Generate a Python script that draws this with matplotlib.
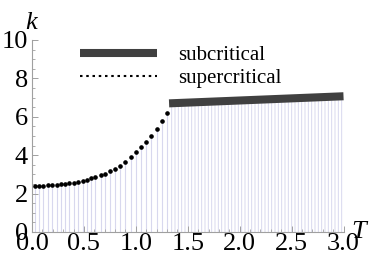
import matplotlib
matplotlib.use("Agg")
import matplotlib.pyplot as plt
from matplotlib.lines import Line2D
from matplotlib.ticker import MultipleLocator

# Data
T_super = [0.03, 0.07, 0.11, 0.15, 0.19, 0.24, 0.28, 0.32, 0.36, 0.40, 0.44, 0.49,
           0.53, 0.57, 0.61, 0.66, 0.70, 0.75, 0.80, 0.85, 0.90, 0.95, 1.00, 1.05,
           1.10, 1.15, 1.20, 1.25, 1.30]
k_super = [2.42, 2.42, 2.42, 2.43, 2.44, 2.46, 2.48, 2.50, 2.53, 2.56, 2.61, 2.66,
           2.72, 2.79, 2.86, 2.95, 3.04, 3.16, 3.30, 3.45, 3.66, 3.91, 4.15, 4.42,
           4.70, 5.02, 5.37, 5.76, 6.20]
T_sub = [1.32, 3.0]
k_sub = [6.70, 7.07]

x_ticks = [0.0, 0.5, 1.0, 1.5, 2.0, 2.5, 3.0]
x_ticklabels = ["0.0", "0.5", "1.0", "1.5", "2.0", "2.5", "3.0"]
y_ticks = [0, 2, 4, 6, 8, 10]
y_ticklabels = ["0", "2", "4", "6", "8", "10"]

plt.rcParams['font.family'] = 'serif'
plt.rcParams['font.serif'] = ['Liberation Serif', 'Times New Roman', 'DejaVu Serif']
plt.rcParams['hatch.linewidth'] = 0.7
lav = '#d8d8ee'
plt.rcParams['hatch.color'] = lav

fig = plt.figure(figsize=(3.74, 2.69), dpi=100)
ax = fig.add_axes([32 / 374, 37 / 269, (343.5 - 32) / 374, (232 - 40) / 269])

# filling lines
ax.vlines(T_super, 0, k_super, colors=lav, linewidth=0.8, zorder=1)
ax.fill_between(T_sub, 0, k_sub, facecolor='none', edgecolor=lav, hatch='|||||',
                linewidth=0, zorder=1)

# series
ax.plot(T_super, k_super, linestyle='none', marker='o', markersize=2.3,
        color='black', zorder=3)
ax.plot(T_sub, k_sub, color='#404040', linewidth=5.8, solid_capstyle='butt', zorder=3)

ax.set_xlim(0, 3.0)
ax.set_ylim(0, 10)

ax.set_xticks(x_ticks)
ax.set_xticklabels(x_ticklabels)
ax.set_yticks(y_ticks)
ax.set_yticklabels(y_ticklabels)
ax.xaxis.set_minor_locator(MultipleLocator(0.1))
ax.yaxis.set_minor_locator(MultipleLocator(0.5))

for s in ['top', 'right']:
    ax.spines[s].set_visible(False)
for s in ['left', 'bottom']:
    ax.spines[s].set_color('#a0a0a0')
    ax.spines[s].set_linewidth(0.8)

ax.tick_params(which='both', direction='in', color='#a0a0a0', labelsize=19,
               labelcolor='black')
ax.tick_params(which='major', length=4, width=0.7, pad=1)
ax.tick_params(which='minor', length=2.5, width=0.6)
ax.tick_params(axis='y', pad=3)

ax.text(-0.065, 10.3, 'k', fontsize=19, style='italic', ha='left', va='bottom',
        clip_on=False)
ax.text(3.07, 0.0, 'T', fontsize=19, style='italic', ha='left', va='center',
        clip_on=False)

h1 = Line2D([], [], color='#404040', linewidth=5.8, solid_capstyle='butt')
h2 = Line2D([], [], color='black', linewidth=1.5, linestyle=(0, (1.2, 1.8)))
leg = ax.legend([h1, h2], ['subcritical', 'supercritical'], loc='upper left',
                bbox_to_anchor=(0.154, 0.97), frameon=False, fontsize=15,
                handlelength=3.7, handletextpad=1.0, borderpad=0, borderaxespad=0,
                labelspacing=0.15)

fig.savefig('out.png', dpi=100)
